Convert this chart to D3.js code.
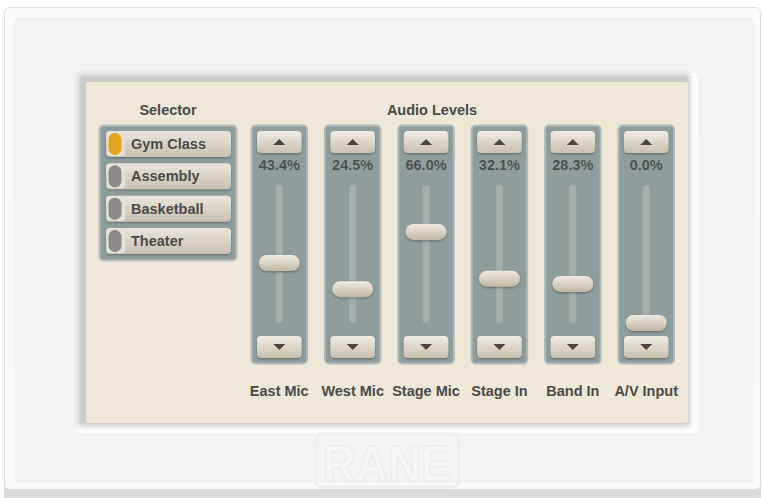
<!DOCTYPE html>
<html><head><meta charset="utf-8">
<script src="https://cdn.jsdelivr.net/npm/d3@7"></script>
<style>html,body{margin:0;padding:0;background:#fff;}svg{display:block;}</style>
</head><body>
<script>
const presets = ["Gym Class", "Assembly", "Basketball", "Theater"];
const activePreset = "Gym Class";
const channels = ["East Mic", "West Mic", "Stage Mic", "Stage In", "Band In", "A/V Input"];
const levels = [43.4, 24.5, 66.0, 32.1, 28.3, 0.0];
const titles = ["Selector", "Audio Levels"];

const W = 763, H = 498;
const svg = d3.select("body").append("svg").attr("width", W).attr("height", H);
const defs = svg.append("defs");
const FONT = "'Liberation Sans', Arial, sans-serif";

function lg(id, stops, vertical = true) {
  const g = defs.append("linearGradient").attr("id", id)
    .attr("x1", 0).attr("y1", 0).attr("x2", vertical ? 0 : 1).attr("y2", vertical ? 1 : 0);
  stops.forEach(([o, c]) => g.append("stop").attr("offset", o).attr("stop-color", c));
}
lg("btn", [[0, "#f1ede4"], [0.5, "#ddd6c9"], [1, "#c8bfae"]]);
lg("thumb", [[0, "#f0ebe1"], [0.5, "#d9d1c2"], [1, "#bfb6a4"]]);
lg("sel", [[0, "#ebe6dc"], [0.5, "#dad3c6"], [1, "#c9c1b1"]]);
lg("plate", [[0, "#f2f2f2"], [1, "#f4f4f4"]]);
const blur = defs.append("filter").attr("id", "blur").attr("x", -0.1).attr("y", -0.1).attr("width", 1.2).attr("height", 1.2);
blur.append("feGaussianBlur").attr("stdDeviation", 2.5);
const ds = defs.append("filter").attr("id", "ds").attr("x", -0.2).attr("y", -0.3).attr("width", 1.4).attr("height", 1.8);
ds.append("feDropShadow").attr("dx", 0).attr("dy", 1.2).attr("stdDeviation", 0.8).attr("flood-color", "#3c4444").attr("flood-opacity", 0.55);

// wall plate
svg.append("rect").attr("x", 0).attr("y", 0).attr("width", W).attr("height", H).attr("fill", "#ffffff");
svg.append("rect").attr("x", 4).attr("y", 486).attr("width", 757).attr("height", 12).attr("fill", "#dcdcdc");
svg.append("rect").attr("x", 4.5).attr("y", 7.5).attr("width", 756).attr("height", 482).attr("rx", 5)
  .attr("fill", "#fbfbfb").attr("stroke", "#dedede");
svg.append("rect").attr("x", 14).attr("y", 17).attr("width", 740).attr("height", 466).attr("rx", 4)
  .attr("fill", "url(#plate)");

// inset around panel
svg.append("rect").attr("x", 77).attr("y", 73).attr("width", 621).attr("height", 360).attr("rx", 4).attr("fill", "#fdfdfd");
svg.append("rect").attr("x", 78).attr("y", 74).attr("width", 612).attr("height", 352).attr("rx", 3)
  .attr("fill", "#c9c9c9").attr("filter", "url(#blur)");
svg.append("rect").attr("x", 86).attr("y", 82).attr("width", 602).attr("height", 341).attr("rx", 2).attr("fill", "#efe8d8");

// watermark
const wm = svg.append("g");
wm.append("rect").attr("x", 316).attr("y", 434).attr("width", 143).attr("height", 53).attr("rx", 6)
  .attr("fill", "none").attr("stroke", "#eeeeee").attr("stroke-width", 3);
wm.append("text").attr("x", 387).attr("y", 481).attr("text-anchor", "middle")
  .attr("font-family", FONT).attr("font-weight", "bold").attr("font-size", 50)
  .attr("textLength", 128).attr("lengthAdjust", "spacingAndGlyphs")
  .attr("fill", "#f7f7f7").attr("stroke", "#ededed").attr("stroke-width", 1.5).text("RANE");

const textColor = "#4a4a4a";
// titles
svg.append("text").attr("x", 168).attr("y", 115).attr("text-anchor", "middle")
  .attr("font-family", FONT).attr("font-weight", "bold").attr("font-size", 14.5).attr("fill", textColor).text(titles[0]);
svg.append("text").attr("x", 432).attr("y", 115).attr("text-anchor", "middle")
  .attr("font-family", FONT).attr("font-weight", "bold").attr("font-size", 14.5).attr("fill", textColor).text(titles[1]);

// selector
const selY = d3.scaleBand().domain(presets).range([131, 254]).paddingInner(0.195).paddingOuter(0);
svg.append("rect").attr("x", 99.5).attr("y", 125.5).attr("width", 137).attr("height", 135).attr("rx", 4)
  .attr("fill", "#8f9e9d").attr("stroke", "#b3bdba").attr("stroke-width", 2);
const sb = svg.selectAll("g.sel").data(presets).join("g").attr("class", "sel")
  .attr("transform", d => `translate(106,${selY(d)})`);
sb.append("rect").attr("width", 125).attr("height", selY.bandwidth()).attr("rx", 4)
  .attr("fill", "url(#sel)").attr("filter", "url(#ds)");
sb.append("rect").attr("x", 1).attr("y", 1).attr("width", 18).attr("height", selY.bandwidth() - 2).attr("rx", 3)
  .attr("fill", "#e6e2d9");
sb.append("rect").attr("x", 2.5).attr("y", 2).attr("width", 13).attr("height", selY.bandwidth() - 4).attr("rx", 6.5)
  .attr("fill", d => d === activePreset ? "#e9a21e" : "#8a8884");
sb.append("text").attr("x", 25).attr("y", selY.bandwidth() / 2 + 5)
  .attr("font-family", FONT).attr("font-weight", "bold").attr("font-size", 14.5).attr("fill", textColor)
  .text(d => d);

// sliders
const x = d3.scaleBand().domain(channels).range([251, 674.5]).paddingInner(0.229).paddingOuter(0);
const y = d3.scaleLinear().domain([0, 100]).range([323, 185]);
const colW = x.bandwidth();
const cols = svg.selectAll("g.col").data(channels.map((c, i) => ({ c, v: levels[i] }))).join("g")
  .attr("class", "col").attr("transform", d => `translate(${x(d.c)},0)`);
cols.append("rect").attr("x", 0.5).attr("y", 125.5).attr("width", colW - 1).attr("height", 238).attr("rx", 4)
  .attr("fill", "#8f9e9d").attr("stroke", "#b0bab8").attr("stroke-width", 2);
[131, 336].forEach((by, k) => {
  cols.append("rect").attr("x", 6).attr("y", by).attr("width", colW - 12).attr("height", 22).attr("rx", 4)
    .attr("fill", "url(#btn)").attr("filter", "url(#ds)");
  const cx = colW / 2, cy = by + 11;
  const tri = k === 0
    ? `M${cx - 6},${cy + 3} L${cx + 6},${cy + 3} L${cx},${cy - 3} Z`
    : `M${cx - 6},${cy - 3} L${cx + 6},${cy - 3} L${cx},${cy + 3} Z`;
  cols.append("path").attr("d", tri).attr("fill", "#4a4541");
});
cols.append("text").attr("x", colW / 2).attr("y", 170.2).attr("text-anchor", "middle")
  .attr("font-family", FONT).attr("font-weight", "bold").attr("font-size", 14.5).attr("fill", "#a9b4b2")
  .text(d => d.v.toFixed(1) + "%");
cols.append("text").attr("x", colW / 2).attr("y", 169.5).attr("text-anchor", "middle")
  .attr("font-family", FONT).attr("font-weight", "bold").attr("font-size", 14.5).attr("fill", "#4a5050")
  .text(d => d.v.toFixed(1) + "%");
cols.append("rect").attr("x", colW / 2 - 3.5).attr("y", y(100)).attr("width", 7).attr("height", y(0) - y(100)).attr("rx", 3.5)
  .attr("fill", "#a6aeac");
cols.append("rect").attr("x", colW / 2 - 20.5).attr("y", d => y(d.v) - 8).attr("width", 41).attr("height", 16).attr("rx", 8)
  .attr("fill", "url(#thumb)").attr("filter", "url(#ds)");
svg.selectAll("text.ch").data(channels).join("text").attr("class", "ch")
  .attr("x", d => x(d) + colW / 2).attr("y", 395.5).attr("text-anchor", "middle")
  .attr("font-family", FONT).attr("font-weight", "bold").attr("font-size", 14.5).attr("fill", textColor)
  .text(d => d);
</script>
</body></html>
